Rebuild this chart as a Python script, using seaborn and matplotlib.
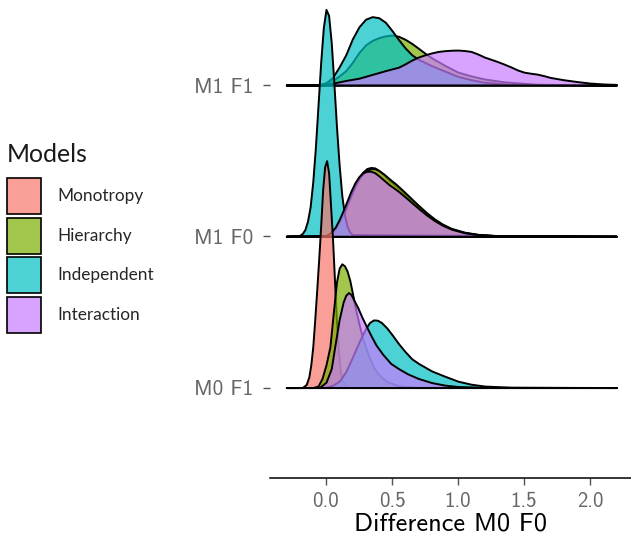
import pandas as pd
import seaborn as sns
import matplotlib.pyplot as plt
from matplotlib.colors import to_rgba
from matplotlib.patches import Patch

# ridge rows (bottom to top) and models (drawing order)
rows = ['M0 F1', 'M1 F0', 'M1 F1']
models = ['Monotropy', 'Hierarchy', 'Independent', 'Interaction']
model_colors = ['#F8766D', '#7CAE00', '#00BFC4', '#C77CFF']
x_ticks = [0.0, 0.5, 1.0, 1.5, 2.0]
x_tick_labels = ['0.0', '0.5', '1.0', '1.5', '2.0']

# density heights (in row units)
# --- M0 F1 ---
m0f1_monotropy_x = [-0.3, -0.18, -0.15, -0.13, -0.115, -0.1, -0.085, -0.07, -0.055, -0.04, -0.025, -0.01, 0.005, 0.02, 0.035, 0.05, 0.065, 0.08, 0.095, 0.11, 0.125, 0.14, 0.16, 0.2, 2.2]
m0f1_monotropy_h = [0, 0, 0.02, 0.07, 0.15, 0.27, 0.45, 0.645, 0.85, 1.07, 1.31, 1.46, 1.5, 1.42, 1.2, 0.977, 0.7, 0.43, 0.23, 0.1, 0.045, 0.02, 0.005, 0, 0]
m0f1_hierarchy_x = [-0.3, -0.1, -0.06, -0.03, 0.0, 0.03, 0.055, 0.08, 0.1, 0.12, 0.14, 0.16, 0.18, 0.2, 0.225, 0.25, 0.28, 0.32, 0.36, 0.4, 0.46, 0.55, 0.7, 2.2]
m0f1_hierarchy_h = [0, 0, 0.01, 0.06, 0.15, 0.27, 0.49, 0.7, 0.79, 0.818, 0.805, 0.77, 0.71, 0.625, 0.515, 0.42, 0.32, 0.215, 0.135, 0.085, 0.04, 0.012, 0.002, 0]
m0f1_independent_x = [-0.3, -0.05, 0.0, 0.05, 0.1, 0.15, 0.2, 0.25, 0.3, 0.33, 0.36, 0.39, 0.42, 0.46, 0.5, 0.55, 0.6, 0.65, 0.7, 0.8, 0.9, 1.0, 1.1, 1.2, 1.4, 2.2]
m0f1_independent_h = [0, 0, 0.003, 0.015, 0.042, 0.105, 0.2, 0.3, 0.39, 0.43, 0.447, 0.445, 0.43, 0.395, 0.35, 0.29, 0.237, 0.19, 0.16, 0.11, 0.075, 0.042, 0.022, 0.01, 0.002, 0]
m0f1_interaction_x = [-0.3, -0.05, 0.0, 0.04, 0.07, 0.1, 0.13, 0.15, 0.17, 0.19, 0.21, 0.24, 0.27, 0.3, 0.34, 0.38, 0.43, 0.49, 0.55, 0.62, 0.7, 0.8, 0.9, 1.0, 1.2, 2.2]
m0f1_interaction_h = [0, 0, 0.035, 0.125, 0.29, 0.45, 0.565, 0.61, 0.628, 0.615, 0.58, 0.53, 0.47, 0.415, 0.345, 0.28, 0.22, 0.16, 0.125, 0.09, 0.06, 0.033, 0.016, 0.007, 0.001, 0]

# --- M1 F0 ---
m1f0_hump_x = [-0.3, 0.0, 0.03, 0.07, 0.1, 0.13, 0.16, 0.19, 0.22, 0.25, 0.28, 0.31, 0.34, 0.37, 0.4, 0.44, 0.48, 0.53, 0.58, 0.64, 0.7, 0.76, 0.82, 0.88, 0.95, 1.05, 1.15, 1.3, 2.2]
m1f0_monotropy_h = [0, 0, 0.01, 0.045, 0.09, 0.15, 0.215, 0.28, 0.34, 0.39, 0.425, 0.448, 0.455, 0.452, 0.435, 0.405, 0.37, 0.335, 0.295, 0.245, 0.195, 0.15, 0.11, 0.078, 0.05, 0.025, 0.012, 0.004, 0]
m1f0_hierarchy_h = [0, 0, 0.01, 0.042, 0.085, 0.14, 0.205, 0.27, 0.33, 0.38, 0.415, 0.437, 0.447, 0.447, 0.435, 0.41, 0.38, 0.345, 0.305, 0.255, 0.205, 0.158, 0.116, 0.082, 0.052, 0.027, 0.013, 0.004, 0]
m1f0_interaction_h = [0, 0.005, 0.02, 0.06, 0.11, 0.17, 0.235, 0.3, 0.355, 0.395, 0.42, 0.43, 0.43, 0.42, 0.4, 0.37, 0.34, 0.31, 0.275, 0.23, 0.185, 0.142, 0.105, 0.074, 0.047, 0.023, 0.011, 0.003, 0]
m1f0_independent_x = [-0.3, -0.2, -0.18, -0.16, -0.14, -0.12, -0.1, -0.08, -0.06, -0.04, -0.02, 0.0, 0.02, 0.04, 0.06, 0.08, 0.1, 0.12, 0.14, 0.16, 0.18, 0.2, 2.2]
m1f0_independent_h = [0, 0.006, 0.018, 0.044, 0.1, 0.195, 0.36, 0.59, 0.87, 1.15, 1.38, 1.5, 1.46, 1.28, 1.01, 0.72, 0.47, 0.27, 0.14, 0.066, 0.028, 0.011, 0]

# --- M1 F1 ---
m1f1_hierarchy_x = [-0.3, -0.05, 0.0, 0.05, 0.1, 0.15, 0.2, 0.25, 0.3, 0.35, 0.4, 0.45, 0.5, 0.55, 0.6, 0.65, 0.7, 0.75, 0.8, 0.9, 1.0, 1.1, 1.2, 1.35, 1.6, 2.2]
m1f1_hierarchy_h = [0, 0, 0.01, 0.03, 0.06, 0.095, 0.15, 0.215, 0.265, 0.295, 0.313, 0.325, 0.33, 0.322, 0.302, 0.275, 0.243, 0.21, 0.18, 0.13, 0.085, 0.06, 0.04, 0.021, 0.005, 0]
m1f1_independent_x = [-0.3, -0.1, -0.05, 0.0, 0.05, 0.1, 0.15, 0.2, 0.25, 0.3, 0.35, 0.4, 0.45, 0.5, 0.55, 0.6, 0.65, 0.7, 0.8, 0.9, 1.0, 1.1, 1.2, 1.4, 2.2]
m1f1_independent_h = [0, 0, 0.003, 0.015, 0.05, 0.12, 0.2, 0.305, 0.385, 0.435, 0.452, 0.445, 0.415, 0.36, 0.3, 0.245, 0.2, 0.17, 0.128, 0.092, 0.057, 0.035, 0.018, 0.004, 0]
m1f1_interaction_x = [-0.3, -0.02, 0.05, 0.15, 0.25, 0.35, 0.45, 0.55, 0.6, 0.65, 0.7, 0.75, 0.8, 0.85, 0.9, 0.95, 1.0, 1.05, 1.1, 1.15, 1.2, 1.25, 1.3, 1.35, 1.4, 1.45, 1.5, 1.55, 1.6, 1.65, 1.7, 1.8, 1.9, 2.0, 2.1, 2.2]
m1f1_interaction_h = [0, 0, 0.012, 0.03, 0.045, 0.07, 0.095, 0.118, 0.14, 0.165, 0.185, 0.2, 0.212, 0.222, 0.227, 0.23, 0.231, 0.228, 0.222, 0.205, 0.185, 0.17, 0.155, 0.138, 0.12, 0.1, 0.085, 0.078, 0.072, 0.062, 0.05, 0.035, 0.023, 0.013, 0.007, 0.004]


def long_frame(row, model, xs, hs):
    return pd.DataFrame({'row': row, 'model': model, 'x': xs, 'h': hs})


df = pd.concat([
    long_frame('M1 F1', 'Hierarchy', m1f1_hierarchy_x, m1f1_hierarchy_h),
    long_frame('M1 F1', 'Independent', m1f1_independent_x, m1f1_independent_h),
    long_frame('M1 F1', 'Interaction', m1f1_interaction_x, m1f1_interaction_h),
    long_frame('M1 F0', 'Monotropy', m1f0_hump_x, m1f0_monotropy_h),
    long_frame('M1 F0', 'Hierarchy', m1f0_hump_x, m1f0_hierarchy_h),
    long_frame('M1 F0', 'Independent', m1f0_independent_x, m1f0_independent_h),
    long_frame('M1 F0', 'Interaction', m1f0_hump_x, m1f0_interaction_h),
    long_frame('M0 F1', 'Monotropy', m0f1_monotropy_x, m0f1_monotropy_h),
    long_frame('M0 F1', 'Hierarchy', m0f1_hierarchy_x, m0f1_hierarchy_h),
    long_frame('M0 F1', 'Independent', m0f1_independent_x, m0f1_independent_h),
    long_frame('M0 F1', 'Interaction', m0f1_interaction_x, m0f1_interaction_h),
], ignore_index=True)

sns.set_theme(style='white')
palette = dict(zip(models, sns.color_palette(model_colors)))
axis_font = 'cmss10'

fig = plt.figure(figsize=(6.31, 5.39), dpi=100)
ax = fig.add_axes([270 / 631, 61 / 539, 361 / 631, 478 / 539])

# draw rows top to bottom, models in legend order within a row
z = 2
for row in reversed(rows):
    base = rows.index(row) + 1
    for model in models:
        d = df[(df['row'] == row) & (df['model'] == model)]
        if d.empty:
            continue
        ax.fill_between(d['x'], base, base + d['h'],
                        facecolor=to_rgba(palette[model], 0.7),
                        edgecolor='black', linewidth=1.4, zorder=z,
                        joinstyle='round')
        z += 1

ax.set_xlim(-0.424, 2.311)
ax.set_ylim(0.402, 3.562)
ax.set_xticks(x_ticks)
ax.set_xticklabels(x_tick_labels, family=axis_font, fontsize=15, color='#666666')
ax.set_yticks(range(1, len(rows) + 1))
ax.set_yticklabels(rows, family=axis_font, fontsize=15.3, color='#666666')
ax.tick_params(axis='x', length=5, width=1, color='#555555', pad=5)
ax.tick_params(axis='y', length=5, width=1, color='#555555', pad=7)
ax.tick_params(bottom=True, left=True)
ax.set_xlabel('Difference M0 F0', family=axis_font, fontsize=19, color='black', labelpad=1.5)
ax.set_ylabel('')

for side in ['top', 'right', 'left']:
    ax.spines[side].set_visible(False)
ax.spines['bottom'].set_color('black')
ax.spines['bottom'].set_linewidth(1.1)

# legend title placed on its own, keys below it
fig.text(7 / 631, 1 - 162 / 539, 'Models', family='Lato', fontsize=17.8,
         color='#1a1a1a', ha='left', va='baseline')
handles = [Patch(facecolor=to_rgba(palette[m], 0.7), edgecolor='black', linewidth=1.2) for m in models]
leg = fig.legend(handles, models, loc='upper left',
                 bbox_to_anchor=(7 / 631, 1 - 178 / 539), frameon=False,
                 prop={'family': 'Lato', 'size': 12.4},
                 handlelength=2.0, handleheight=2.85, labelspacing=0.2, handletextpad=0.9,
                 borderpad=0, borderaxespad=0)

fig.savefig('out.png', dpi=100)
